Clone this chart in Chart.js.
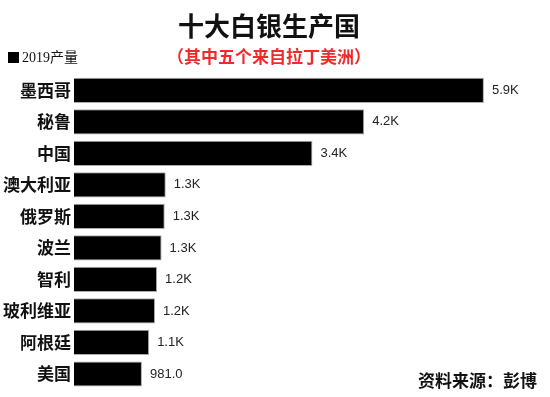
<!DOCTYPE html>
<html>
<head>
<meta charset="utf-8">
<script src="https://cdn.jsdelivr.net/npm/chart.js@4/dist/chart.umd.min.js"></script>
<style>
  html, body { margin: 0; padding: 0; background: #fff; }
  #wrap { position: relative; width: 550px; height: 397px; }
  #legend {
    position: absolute; left: 8px; top: 46px;
    font: 14px "Liberation Serif", "Noto Sans CJK SC", serif; color: #111;
  }
  #legend span.box { display: inline-block; width: 11px; height: 11px; background: #000; margin-right: 3px; vertical-align: -1px; }
  #source {
    position: absolute; right: 13px; top: 367px;
    font: bold 17px "Noto Sans CJK SC", sans-serif; color: #111;
  }
</style>
</head>
<body>
<div id="wrap">
  <canvas id="chart" width="550" height="397"></canvas>
  <div id="legend"><span class="box"></span>2019产量</div>
  <div id="source">资料来源：彭博</div>
</div>
<script>
    // Countries and 2019 silver output (tonnes)
    const countries = ['墨西哥', '秘鲁', '中国', '澳大利亚', '俄罗斯', '波兰', '智利', '玻利维亚', '阿根廷', '美国'];
    const production = [5919, 4190, 3443, 1325, 1310, 1265, 1200, 1170, 1085, 981];
    const seriesName = '2019产量';

    // Format the value labels like 5.9K / 981.0
    function formatValue(v) {
        if (v >= 1000) return (v / 1000).toFixed(1) + 'K';
        return v.toFixed(1);
    }

    // Draw the value at the end of each bar
    const valueLabels = {
        id: 'valueLabels',
        afterDatasetsDraw(chart) {
            const ctx = chart.ctx;
            const meta = chart.getDatasetMeta(0);
            ctx.save();
            ctx.font = '13px "Liberation Sans", Arial, sans-serif';
            ctx.fillStyle = '#222';
            ctx.textBaseline = 'middle';
            meta.data.forEach((bar, i) => {
                ctx.fillText(formatValue(production[i]), bar.x + 8, bar.y);
            });
            ctx.restore();
        }
    };

    const ctx = document.getElementById('chart').getContext('2d');
    new Chart(ctx, {
        type: 'bar',
        data: {
            labels: countries,
            datasets: [{
                label: seriesName,
                data: production,
                backgroundColor: '#000',
                borderColor: '#aaa',
                borderWidth: 1,
                barPercentage: 0.8,
                categoryPercentage: 1
            }]
        },
        options: {
            indexAxis: 'y',
            responsive: false,
            animation: false,
            layout: { padding: { left: 0, right: 12, bottom: 7 } },
            plugins: {
                legend: { display: false },
                tooltip: { enabled: false },
                title: {
                    display: true,
                    text: '十大白银生产国',
                    color: '#111',
                    font: { size: 26, weight: 'bold', family: '"Noto Sans CJK SC", sans-serif' },
                    padding: { top: 11, bottom: 4 }
                },
                subtitle: {
                    display: true,
                    text: '（其中五个来自拉丁美洲）',
                    color: '#ee2a2a',
                    font: { size: 17, weight: 'bold', family: '"Noto Sans CJK SC", sans-serif' },
                    padding: { top: 0, bottom: 8 }
                }
            },
            scales: {
                x: {
                    display: false,
                    min: 0,
                    max: 6700
                },
                y: {
                    grid: { display: false, drawTicks: false },
                    border: { display: false },
                    ticks: {
                        color: '#111',
                        padding: 3,
                        font: { size: 17, weight: 'bold', lineHeight: 0.5, family: '"Noto Sans CJK SC", sans-serif' }
                    }
                }
            }
        },
        plugins: [valueLabels]
    });
</script>
</body>
</html>
